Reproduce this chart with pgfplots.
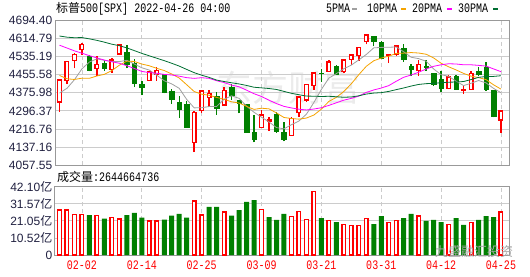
\documentclass[border=0pt]{standalone}
\usepackage{fontspec}
\setmainfont{Liberation Sans}
\newfontfamily\cjk{Noto Sans CJK SC}
\newfontfamily\mono[FakeStretch=0.77]{Liberation Mono}
\usepackage{pgfplots}
\usepackage{pgfplotstable}
\pgfplotsset{compat=1.18}
\definecolor{cRed}{HTML}{FF0000}
\definecolor{cGreen}{HTML}{008000}
\definecolor{maA}{HTML}{A0A0A0}
\definecolor{maB}{HTML}{F5A300}
\definecolor{maC}{HTML}{FF00FF}
\definecolor{maD}{HTML}{006E32}
\definecolor{frame}{HTML}{999999}
\definecolor{gridc}{HTML}{CCCCCC}
\definecolor{lab}{HTML}{202040}
\definecolor{wm}{HTML}{EBEBEB}

% candles: index open high low close
\pgfplotstableread{
i o h l c
0 4336.19 4432.72 4292.46 4431.85
1 4431.79 4516.89 4414.02 4515.55
2 4519.57 4550.49 4483.53 4546.54
3 4566.39 4595.31 4544.32 4589.38
5 4482.79 4539.66 4451.50 4500.53
7 4480.02 4531.32 4465.40 4521.54
8 4547.00 4590.03 4547.00 4587.18
12 4429.28 4472.77 4429.28 4471.07
13 4455.75 4489.55 4429.68 4475.01
18 4155.77 4294.73 4114.65 4288.70
19 4298.38 4385.34 4286.83 4384.65
20 4354.17 4388.84 4315.12 4373.94
22 4322.56 4401.48 4322.56 4386.54
27 4223.10 4299.40 4223.10 4277.88
28 4252.55 4268.28 4209.80 4259.52
31 4188.82 4271.05 4187.90 4262.45
32 4288.14 4357.86 4269.62 4357.86
33 4345.11 4412.67 4335.65 4411.67
34 4407.34 4465.40 4390.57 4463.12
36 4469.10 4522.00 4469.10 4511.61
38 4469.98 4520.58 4465.17 4520.16
39 4522.66 4546.03 4501.07 4543.06
40 4541.09 4575.65 4517.69 4575.52
41 4602.86 4637.30 4589.66 4631.60
44 4540.32 4548.70 4507.57 4545.86
45 4547.97 4583.50 4539.21 4582.64
48 4474.65 4521.16 4450.30 4500.21
52 4394.30 4453.92 4392.70 4446.59
54 4385.63 4410.31 4370.30 4391.69
55 4390.63 4471.03 4390.63 4462.21
59 4255.34 4299.02 4200.82 4296.12
}\upc
\pgfplotstableread{
i o h l c
4 4535.41 4542.88 4470.39 4477.44
6 4505.75 4521.86 4471.47 4483.87
9 4553.24 4588.92 4484.31 4504.08
10 4506.27 4526.33 4401.41 4418.64
11 4412.61 4426.22 4364.84 4401.67
14 4456.06 4456.06 4373.81 4380.26
15 4384.57 4394.60 4327.22 4348.87
16 4332.74 4362.12 4267.11 4304.76
17 4324.93 4341.51 4221.51 4225.50
21 4363.14 4378.45 4279.54 4306.26
23 4401.31 4416.78 4345.56 4363.49
24 4342.12 4342.12 4284.98 4328.87
25 4327.01 4327.01 4199.85 4201.09
26 4202.66 4276.94 4157.87 4170.70
29 4279.50 4291.01 4200.49 4204.31
30 4202.75 4247.57 4161.72 4173.11
35 4462.40 4481.75 4424.30 4461.18
37 4493.10 4501.07 4455.81 4456.24
42 4624.20 4627.77 4581.32 4602.45
43 4599.02 4603.07 4530.41 4530.41
46 4572.45 4593.45 4514.17 4525.12
47 4494.17 4503.94 4450.04 4481.15
49 4494.15 4520.41 4474.60 4488.28
50 4462.64 4464.35 4408.38 4412.53
51 4437.59 4471.00 4381.34 4397.45
53 4449.12 4452.77 4390.99 4392.59
56 4472.26 4488.29 4448.76 4459.45
57 4489.17 4512.94 4384.47 4393.66
58 4385.83 4385.83 4267.62 4271.78
}\downc
% moving averages 5, 10, 20, 30
\pgfplotstableread{
i a b c d
0 4374.97 4452.83 4586.35 4626.84
1 4396.06 4438.10 4573.82 4621.74
2 4434.08 4435.04 4561.31 4619.27
3 4481.97 4440.70 4551.11 4619.98
4 4512.15 4440.17 4539.95 4614.25
5 4525.89 4450.43 4530.17 4607.72
6 4519.55 4457.81 4520.52 4599.65
7 4514.55 4474.31 4513.08 4590.66
8 4514.11 4498.04 4506.78 4584.03
9 4519.44 4515.80 4495.67 4574.39
10 4503.06 4514.48 4483.65 4562.39
11 4486.62 4503.09 4470.59 4550.24
12 4476.53 4495.54 4465.29 4539.39
13 4454.09 4484.10 4462.40 4528.77
14 4429.33 4474.39 4457.28 4518.09
15 4415.38 4459.22 4454.83 4506.52
16 4395.99 4441.31 4449.56 4494.11
17 4346.88 4411.70 4443.01 4479.29
18 4309.62 4381.86 4439.95 4465.14
19 4310.50 4369.91 4442.85 4453.75
20 4315.51 4365.44 4439.96 4444.25
21 4315.81 4355.90 4429.49 4432.36
22 4348.02 4347.45 4421.49 4426.01
23 4362.98 4336.30 4410.20 4420.37
24 4351.82 4331.16 4402.77 4415.24
25 4317.25 4316.38 4387.80 4408.68
26 4290.14 4302.97 4372.14 4400.70
27 4268.41 4308.21 4359.96 4398.08
28 4247.61 4305.29 4343.58 4395.06
29 4222.70 4287.26 4328.59 4390.99
30 4217.10 4267.18 4316.31 4382.37
31 4235.45 4262.80 4309.35 4373.93
32 4251.45 4259.93 4303.69 4367.64
33 4281.88 4264.75 4300.52 4361.72
34 4333.64 4278.17 4304.66 4361.24
35 4391.26 4304.18 4310.28 4359.93
36 4441.09 4338.27 4320.62 4360.85
37 4460.76 4356.11 4332.16 4358.67
38 4482.46 4382.17 4343.73 4356.44
39 4498.45 4416.05 4351.65 4357.74
40 4521.32 4456.29 4361.73 4362.97
41 4545.32 4493.20 4378.00 4370.63
42 4574.56 4517.66 4388.79 4375.01
43 4576.61 4529.54 4397.14 4376.86
44 4577.17 4537.81 4407.99 4382.38
45 4578.59 4549.96 4427.07 4390.17
46 4557.30 4551.31 4444.79 4397.52
47 4533.04 4553.80 4454.95 4406.04
48 4527.00 4551.80 4466.99 4413.09
49 4515.48 4546.32 4481.19 4416.54
50 4481.46 4530.03 4493.16 4417.83
51 4455.92 4506.61 4499.91 4420.87
52 4449.01 4491.02 4504.34 4422.87
53 4427.49 4477.24 4503.39 4423.84
54 4408.17 4461.83 4499.82 4425.94
55 4418.11 4449.78 4499.87 4434.64
56 4430.51 4443.22 4497.26 4444.26
57 4419.92 4434.47 4494.13 4448.12
58 4395.76 4411.62 4481.71 4448.53
59 4376.64 4392.41 4469.37 4451.59
}\mas
% volume (100 million), up days vs previous close
\pgfplotstableread{
i v
0 27.7
1 27.7
2 25.1
3 25.1
5 24.4
7 23.2
8 22.2
12 21.0
13 21.0
18 33.3
19 24.6
22 26.5
27 28.1
31 23.8
32 26.9
33 22.0
34 39.2
36 21.4
38 18.9
39 18.3
40 18.3
41 22.6
44 20.1
45 21.4
48 24.0
52 18.9
55 20.1
59 26.4
}\volup
\pgfplotstableread{
i v
4 24.6
6 22.4
9 24.6
10 25.9
11 23.0
14 21.8
15 24.2
16 25.3
17 23.0
20 29.6
21 29.6
23 24.2
24 27.7
25 32.7
26 33.9
28 23.4
29 21.6
30 25.3
35 22.8
37 20.3
42 19.1
43 24.0
46 22.8
47 25.3
49 21.0
50 21.6
51 20.3
53 22.8
54 18.5
56 21.6
57 24.0
58 23.4
}\voldown

% draw the candles of one table: #1 table, #2 colour, #3 body fill, #4 half width, #5 line width
\newcommand\candles[5]{%
  \pgfplotstablegetrowsof{#1}%
  \pgfmathtruncatemacro\nR{\pgfplotsretval-1}%
  \pgfplotsforeachungrouped \r in {0,...,\nR}{%
    \pgfplotstablegetelem{\r}{i}\of#1\let\ci\pgfplotsretval
    \pgfplotstablegetelem{\r}{o}\of#1\let\co\pgfplotsretval
    \pgfplotstablegetelem{\r}{h}\of#1\let\ch\pgfplotsretval
    \pgfplotstablegetelem{\r}{l}\of#1\let\cl\pgfplotsretval
    \pgfplotstablegetelem{\r}{c}\of#1\let\cc\pgfplotsretval
    \pgfmathsetmacro\xa{\ci-#4}%
    \pgfmathsetmacro\xb{\ci+#4}%
    \edef\tmp{%
      \noexpand\addplot[#2, line width=1.4pt, forget plot] coordinates {(\ci,\cl) (\ci,\ch)};
      \noexpand\addplot[draw=#2, line width=#5, fill=#3, forget plot] coordinates {(\xa,\co) (\xb,\co) (\xb,\cc) (\xa,\cc)} -- cycle;
    }\tmp
  }%
}

\pgfplotsset{
  panel/.style={
    anchor=south west, scale only axis, width=454pt,
    xmin=-0.6, xmax=60.07,
    axis line style={draw=frame, line width=1pt},
    xtick={3,11,19,27,35,43,51,59},
    major tick length=0pt,
    xmajorgrids, ymajorgrids,
    x grid style={gridc, dash pattern=on 4pt off 3pt, line width=0.8pt},
    y grid style={gridc, line width=0.8pt},
    yticklabel style={font=\fontsize{12}{12}\selectfont, text=lab, inner sep=0pt, xshift=-2.5pt},
  },
}

\begin{document}
\begin{tikzpicture}
\path[use as bounding box] (0pt,0pt) rectangle (530pt,276pt);
\node[text=wm] at (288pt,188pt) {\cjk\fontsize{36}{36}\selectfont 东方财富};

\begin{axis}[panel, at={(55pt,111pt)}, height=144.3pt,
  ymin=4057.55, ymax=4694.40, xticklabels={},
  ytick={4057.55,4137.16,4216.76,4296.37,4375.98,4455.58,4535.19,4614.79,4694.40},
  yticklabels={4057.55,4137.16,4216.76,4296.37,4375.98,4455.58,4535.19,4614.79,4694.40}]
\candles{\upc}{cRed}{white}{0.2406}{1.4pt}
\candles{\downc}{cGreen}{cGreen}{0.30}{0.5pt}
% moving averages
\addplot[maA, line width=0.8pt, no marks] table[x=i,y=a]{\mas};
\addplot[maB, line width=0.8pt, no marks] table[x=i,y=b]{\mas};
\addplot[maC, line width=0.8pt, no marks] table[x=i,y=c]{\mas};
\addplot[maD, line width=0.8pt, no marks] table[x=i,y=d]{\mas};
\end{axis}

\begin{axis}[panel, at={(55pt,21pt)}, height=68.3pt,
  ymin=0, ymax=42.10,
  ytick={0,10.52,21.05,31.57,42.10},
  yticklabels={0,10.52{\cjk 亿},21.05{\cjk 亿},31.57{\cjk 亿},42.10{\cjk 亿}},
  xticklabels={02-02,02-14,02-25,03-09,03-21,03-31,04-12,04-25},
  xticklabel style={font=\mono\fontsize{13}{13}\selectfont, text=cRed, anchor=north, inner sep=0pt, yshift=-5.5pt}]
\addplot[ybar, bar width=3.6pt, bar shift=0pt, draw=cRed, line width=1.4pt, fill=white] table[x=i,y=v]{\volup};
\addplot[ybar, bar width=5pt, bar shift=0pt, draw=none, fill=cGreen] table[x=i,y=v]{\voldown};
\end{axis}

% title and legend
\node[anchor=base west, inner sep=0pt] at (56pt,263pt) {{\cjk\fontsize{12}{12}\selectfont 标普}{\mono\fontsize{13}{13}\selectfont 500[SPX] 2022-04-26 04:00}};
\node[anchor=base west, inner sep=0pt] at (326pt,263.3pt) {\mono\fontsize{13}{13}\selectfont 5PMA};
\fill[maA] (352pt,265.7pt) rectangle (357pt,267.7pt);
\node[anchor=base west, inner sep=0pt] at (367pt,263.3pt) {\mono\fontsize{13}{13}\selectfont 10PMA};
\fill[maB] (401pt,265.7pt) rectangle (406pt,267.7pt);
\node[anchor=base west, inner sep=0pt] at (412pt,263.3pt) {\mono\fontsize{13}{13}\selectfont 20PMA};
\fill[maC] (447pt,265.7pt) rectangle (452pt,267.7pt);
\node[anchor=base west, inner sep=0pt] at (458pt,263.3pt) {\mono\fontsize{13}{13}\selectfont 30PMA};
\fill[maD] (493pt,265.7pt) rectangle (498pt,267.7pt);
% volume label
\node[anchor=base west, inner sep=0pt] at (57pt,95pt) {{\cjk\fontsize{12}{12}\selectfont 成交量}{\mono\fontsize{13}{13}\selectfont :2644664736}};
% watermark bottom right
\node[anchor=base west, inner sep=0pt, text=gray!70] at (435pt,20pt) {\cjk\fontsize{13}{13}\selectfont 九盛融汇投资};
\end{tikzpicture}
\end{document}
